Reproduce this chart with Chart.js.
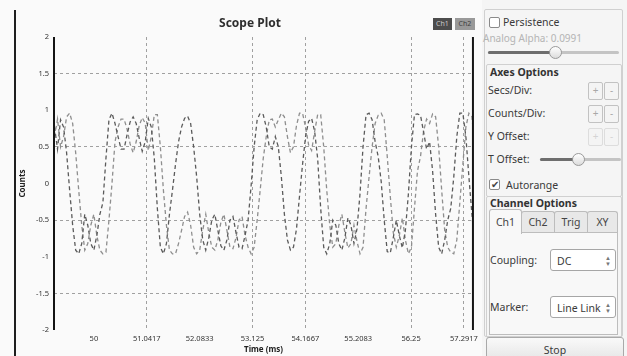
<!DOCTYPE html>
<html>
<head>
<meta charset="utf-8">
<script src="https://cdn.jsdelivr.net/npm/chart.js@4.4.0/dist/chart.umd.min.js"></script>
<style>
  body { margin: 0; width: 627px; height: 356px; overflow: hidden; background: #fafafa; font-family: "Noto Sans", sans-serif; position: relative; }
  #plot { position: absolute; left: 0; top: 0; }
  .abs { position: absolute; white-space: nowrap; }
  .txt { position: absolute; white-space: nowrap; font-size: 10.5px; line-height: 12px; color: #3a3a3a; }
  .dim { color: #b4b4b4; }
  .bold { font-weight: bold; color: #333; }
  .frame { position: absolute; border: 1px solid #d0d0d0; border-radius: 2px; }
  .chk { position: absolute; width: 9px; height: 9px; border: 1px solid #8a8a8a; border-radius: 2px; background: #fff; }
  .groove { position: absolute; height: 3px; background: #c4c4c4; border-radius: 2px; }
  .fill { position: absolute; height: 3px; background: #6e6e6e; border-radius: 2px; }
  .knob { position: absolute; width: 11px; height: 11px; border: 1px solid #9a9a9a; border-radius: 50%; background: linear-gradient(#ffffff, #dcdcdc); }
  .pm { position: absolute; width: 13px; height: 16px; border: 1px solid #c2c2c2; border-radius: 2px; background: #f4f4f4; color: #a8a8a8; font-size: 10px; line-height: 15px; text-align: center; }
  .pm.off { border-color: #dddddd; color: #d4d4d4; }
  .tab { position: absolute; height: 21px; top: 211px; border: 1px solid #bcbcbc; border-bottom: none; border-radius: 3px 3px 0 0; background: #e8e8e8; font-size: 10.5px; line-height: 21px; text-align: center; color: #444; }
  .tab.on { top: 209px; height: 24px; background: #f8f8f8; line-height: 25px; z-index: 2; }
  .combo { position: absolute; width: 66px; height: 22px; border: 1px solid #a6a6a6; border-radius: 3px; background: #fff; font-size: 10.5px; line-height: 22px; color: #3a3a3a; padding-left: 6px; box-sizing: border-box; }
  .arr { position: absolute; right: 4px; top: 5px; font-size: 6px; line-height: 6px; color: #777; }
  .chip { position: absolute; top: 18px; height: 12px; font-size: 7px; line-height: 12px; text-align: center; }
</style>
</head>
<body>
<canvas id="plot" width="482" height="356"></canvas>

<div class="abs" style="left:14px;top:10px;width:2px;height:346px;background:#1e1e1e"></div>
<div class="abs bold" style="left:200px;top:15px;width:100px;text-align:center;font-size:12px;line-height:16px;color:#2e2e2e">Scope Plot</div>
<div class="chip" style="left:433px;width:19px;background:#4c4c4c;color:#c8c8c8">Ch1</div>
<div class="chip" style="left:455px;width:20px;background:#999999;color:#3e3e3e">Ch2</div>

<!-- control panel -->
<div class="abs" style="left:482px;top:0;width:145px;height:356px;background:#f5f5f5"></div>
<div class="frame" style="left:484px;top:9px;width:137px;height:326px"></div>
<div class="chk" style="left:489px;top:17px"></div>
<div class="txt" style="left:503px;top:16px">Persistence</div>
<div class="txt dim" style="left:483px;top:32px;font-size:10px">Analog Alpha: 0.0991</div>
<div class="groove" style="left:488px;top:51px;width:131px"></div>
<div class="fill" style="left:488px;top:51px;width:62px"></div>
<div class="knob" style="left:549px;top:46px"></div>

<div class="frame" style="left:486px;top:64px;width:134px;height:131px"></div>
<div class="txt bold" style="left:490px;top:66px">Axes Options</div>
<div class="txt" style="left:488px;top:84px">Secs/Div:</div>
<div class="pm" style="left:588px;top:82px">+</div>
<div class="pm" style="left:604px;top:82px">-</div>
<div class="txt" style="left:488px;top:107px">Counts/Div:</div>
<div class="pm" style="left:588px;top:105px">+</div>
<div class="pm" style="left:604px;top:105px">-</div>
<div class="txt" style="left:488px;top:130px">Y Offset:</div>
<div class="pm off" style="left:588px;top:128px">+</div>
<div class="pm off" style="left:604px;top:128px">-</div>
<div class="txt" style="left:488px;top:153px">T Offset:</div>
<div class="groove" style="left:540px;top:158px;width:81px"></div>
<div class="fill" style="left:540px;top:158px;width:34px"></div>
<div class="knob" style="left:572px;top:153px"></div>
<div class="chk" style="left:489px;top:179px;font-size:10px;line-height:9px;color:#444;text-align:center">✔</div>
<div class="txt" style="left:506px;top:179px">Autorange</div>

<div class="frame" style="left:486px;top:196px;width:134px;height:140px"></div>
<div class="txt bold" style="left:490px;top:197px">Channel Options</div>
<div class="tab on" style="left:489px;width:31px">Ch1</div>
<div class="tab" style="left:521px;width:32px">Ch2</div>
<div class="tab" style="left:554px;width:32px">Trig</div>
<div class="tab" style="left:587px;width:29px">XY</div>
<div class="abs" style="left:489px;top:232px;width:127px;height:101px;border:1px solid #bdbdbd;background:#f8f8f8"></div>
<div class="txt" style="left:490px;top:254px">Coupling:</div>
<div class="combo" style="left:550px;top:249px">DC<span class="arr">▲<br>▼</span></div>
<div class="txt" style="left:490px;top:301px">Marker:</div>
<div class="combo" style="left:550px;top:296px">Line Link<span class="arr">▲<br>▼</span></div>
<div class="abs" style="left:486px;top:337px;width:136px;height:24px;border:1px solid #a9a9a9;border-radius:3px;background:linear-gradient(#f9f9f9,#e4e4e4);font-size:10.5px;line-height:24px;text-align:center;color:#3a3a3a">Stop</div>

<script>
// sample clock of the scope (ms)
const sampleStartMs = 49.224;
const samplePeriodMs = 0.0596;

// Ch1 / Ch2 values (Counts)
const ch1 = [
  0.77, 0.47, 0.87, 0.77, 0.42, -0.09, -0.57, -0.91, -0.96, -0.82,
  -0.42, -0.57, -0.82, -0.91, -0.71, -0.42, -0.26, 0.34, 0.87, 0.96,
  0.82, 0.64, 0.47, 0.47, 0.67, 0.84, 0.91, 0.82, 0.62, 0.44,
  0.57, 0.89, 0.77, 0.34, -0.34, -0.87, -0.96, -0.82, -0.42, -0.09,
  0.26, 0.57, 0.77, 0.89, 0.92, 0.82, 0.50, 0.09, -0.42, -0.77,
  -0.91, -0.74, -0.50, -0.42, -0.64, -0.85, -0.91, -0.77, -0.50, -0.45,
  -0.67, -0.87, -0.89, -0.71, -0.50, -0.03, 0.50, 0.87, 0.96, 0.94,
  0.77, 0.50, 0.47, 0.64, 0.50, 0.09, -0.42, -0.77, -0.91, -0.87,
  -0.62, -0.17, 0.26, 0.64, 0.85, 0.89, 0.71, 0.34, -0.34, -0.87,
  -0.96, -0.82, -0.50, -0.57, -0.82, -0.91, -0.74, -0.47, -0.57, -0.82,
  -0.62, -0.14, 0.50, 0.94, 0.96, 0.87, 0.57, 0.37, 0.03, -0.50,
  -0.93, -0.95, -0.74, -0.50, -0.71, -0.88, -0.64, -0.14, 0.50, 0.94,
  0.95, 0.93, 0.71, 0.47, 0.57, 0.17, -0.42, -0.87, -0.96, -0.77,
  -0.50, -0.34, 0.09, 0.64, 0.96, 0.96, 0.64, 0.09, -0.42, -0.87
];
const ch2 = [
  0.64, 0.88, 0.50, 0.64, 0.91, 0.96, 0.82, 0.42, -0.09, -0.57,
  -0.91, -0.82, -0.57, -0.42, -0.71, -0.91, -0.96, -0.94, -0.50, 0.00,
  0.57, 0.77, 0.88, 0.88, 0.74, 0.54, 0.42, 0.57, 0.79, 0.90,
  0.82, 0.45, 0.64, 0.94, 0.94, 0.50, -0.09, -0.57, -0.91, -0.96,
  -0.96, -0.82, -0.64, -0.45, -0.39, -0.57, -0.87, -0.96, -0.91, -0.64,
  -0.42, -0.67, -0.87, -0.91, -0.77, -0.53, -0.42, -0.64, -0.87, -0.89,
  -0.74, -0.50, -0.45, -0.71, -0.87, -0.96, -0.87, -0.50, -0.09, 0.34,
  0.64, 0.87, 0.88, 0.77, 0.87, 0.96, 0.91, 0.64, 0.42, 0.50,
  0.79, 0.96, 0.96, 0.77, 0.53, 0.45, 0.71, 0.94, 0.94, 0.50,
  -0.09, -0.57, -0.87, -0.82, -0.57, -0.42, -0.67, -0.88, -0.82, -0.57,
  -0.79, -0.96, -0.87, -0.34, 0.09, 0.50, 0.82, 0.93, 0.96, 0.87,
  0.37, -0.17, -0.67, -0.87, -0.71, -0.47, -0.77, -0.96, -0.87, -0.34,
  0.17, 0.37, 0.71, 0.88, 0.82, 0.95, 0.91, 0.50, -0.09, -0.64,
  -0.87, -0.94, -0.96, -0.77, -0.26, 0.26, 0.77, 0.96, 0.91, 0.50
];

// axes
const xTickLabels = ["50", "51.0417", "52.0833", "53.125", "54.1667", "55.2083", "56.25", "57.2917"];
const xGridLabels = ["51.0417", "53.125", "54.1667", "56.25", "57.2917"];
const yTickLabels = ["-2", "-1.5", "-1", "-0.5", "0", "0.5", "1", "1.5", "2"];
const yGridLabels = ["-1.5", "-0.5", "0.5", "1.5"];
const xMin = 49.214, xMax = 57.469;
const yMin = -2, yMax = 2;

const xTickValues = xTickLabels.map(Number);
const xGridValues = xGridLabels.map(Number);
const yTickValues = yTickLabels.map(Number);
const yGridValues = yGridLabels.map(Number);
const times = ch1.map((_, i) => sampleStartMs + i * samplePeriodMs);

const axisLines = {
    id: "axisLines",
    afterDraw(chart) {
        const { ctx, chartArea: a } = chart;
        ctx.save();
        ctx.strokeStyle = "#141414";
        ctx.lineWidth = 2;
        ctx.beginPath();
        ctx.moveTo(a.left, a.top); ctx.lineTo(a.left, a.bottom);
        ctx.moveTo(a.right, a.top); ctx.lineTo(a.right, a.bottom);
        ctx.stroke();
        ctx.restore();
    }
};

const tickFont = { family: "Noto Sans", size: 7.5 };
const titleFont = { family: "Noto Sans", size: 8, weight: "bold" };
const gridColor = "#a0a0a0";

new Chart(document.getElementById("plot"), {
    type: "line",
    data: {
        datasets: [
            {
                label: "Ch1",
                data: times.map((t, i) => ({ x: t, y: ch1[i] })),
                borderColor: "#5a5a5a",
                borderWidth: 1.3,
                borderDash: [4, 3],
                pointRadius: 0,
                tension: 0
            },
            {
                label: "Ch2",
                data: times.map((t, i) => ({ x: t, y: ch2[i] })),
                borderColor: "#8e8e8e",
                borderWidth: 1.3,
                borderDash: [4, 3],
                pointRadius: 0,
                tension: 0
            }
        ]
    },
    options: {
        responsive: false,
        animation: false,
        devicePixelRatio: 1,
        layout: { padding: { left: 14, right: 8, top: 37, bottom: 0 } },
        plugins: { legend: { display: false }, tooltip: { enabled: false } },
        scales: {
            x: {
                type: "linear",
                min: xMin,
                max: xMax,
                afterBuildTicks: scale => { scale.ticks = xTickValues.map(v => ({ value: v })); },
                afterFit: scale => { scale.height = 26; },
                ticks: {
                    autoSkip: false,
                    maxRotation: 0,
                    padding: 4,
                    color: "#333",
                    font: tickFont,
                    callback: (v, i) => xTickLabels[i]
                },
                grid: {
                    drawTicks: false,
                    lineWidth: 1,
                    color: c => (c.tick && xGridValues.includes(c.tick.value)) ? gridColor : "rgba(0,0,0,0)"
                },
                border: { display: false, dash: [3, 3] },
                title: { display: true, text: "Time (ms)", color: "#222", font: titleFont, padding: { top: 0, bottom: 1 } }
            },
            y: {
                min: yMin,
                max: yMax,
                afterBuildTicks: scale => { scale.ticks = yTickValues.map(v => ({ value: v })); },
                afterFit: scale => { scale.width = 40; },
                ticks: {
                    padding: 5,
                    color: "#333",
                    font: tickFont,
                    callback: (v, i) => yTickLabels[i]
                },
                grid: {
                    drawTicks: false,
                    lineWidth: 1,
                    color: c => (c.tick && yGridValues.includes(c.tick.value)) ? gridColor : "rgba(0,0,0,0)"
                },
                border: { display: false, dash: [3, 3] },
                title: { display: true, text: "Counts", color: "#222", font: titleFont, padding: { top: 4, bottom: 0 } }
            }
        }
    },
    plugins: [axisLines]
});
</script>
</body>
</html>
